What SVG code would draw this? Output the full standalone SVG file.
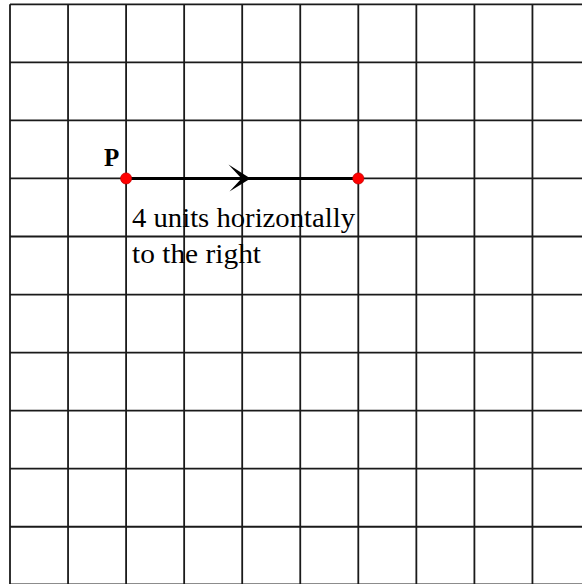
<svg xmlns="http://www.w3.org/2000/svg" width="582" height="584" viewBox="0 0 582 584">
<style>
.grid line{stroke:#1a1a1a;stroke-width:1.8}
.pt{fill:#ff0000;stroke:#b00000;stroke-width:0.6}
.lbl{font-family:"Liberation Serif","Times New Roman",serif;fill:#000}
</style>
<rect width="582" height="584" fill="#fff"/>
<g id="grid" class="grid">
<line x1="10" y1="4.3" x2="10" y2="584"/>
<line x1="68.05" y1="4.3" x2="68.05" y2="584"/>
<line x1="126.1" y1="4.3" x2="126.1" y2="584"/>
<line x1="184.15" y1="4.3" x2="184.15" y2="584"/>
<line x1="242.2" y1="4.3" x2="242.2" y2="584"/>
<line x1="300.25" y1="4.3" x2="300.25" y2="584"/>
<line x1="358.3" y1="4.3" x2="358.3" y2="584"/>
<line x1="416.35" y1="4.3" x2="416.35" y2="584"/>
<line x1="474.4" y1="4.3" x2="474.4" y2="584"/>
<line x1="532.45" y1="4.3" x2="532.45" y2="584"/>
<line x1="10" y1="4.3" x2="582" y2="4.3"/>
<line x1="10" y1="62.35" x2="582" y2="62.35"/>
<line x1="10" y1="120.4" x2="582" y2="120.4"/>
<line x1="10" y1="178.45" x2="582" y2="178.45"/>
<line x1="10" y1="236.5" x2="582" y2="236.5"/>
<line x1="10" y1="294.55" x2="582" y2="294.55"/>
<line x1="10" y1="352.6" x2="582" y2="352.6"/>
<line x1="10" y1="410.65" x2="582" y2="410.65"/>
<line x1="10" y1="468.7" x2="582" y2="468.7"/>
<line x1="10" y1="526.75" x2="582" y2="526.75"/>
<line x1="10" y1="584.3" x2="582" y2="584.3"/>
</g>
<g id="connectors">
<line x1="126.1" y1="178.45" x2="358.3" y2="178.45" stroke="#000" stroke-width="3"/>
<path d="M228.5,164.5 L250.5,178.45 L229.5,191.5 L241.5,178.45 Z" fill="#000"/>
</g>
<g id="P">
<circle class="pt" cx="126.1" cy="178.45" r="5.6"/>
<text class="lbl" x="104" y="166" font-size="25" font-weight="bold">P</text>
</g>
<g id="Q">
<circle class="pt" cx="358.3" cy="178.45" r="5.6"/>
</g>
<g id="label">
<text class="lbl" x="132" y="226.7" font-size="28" textLength="223" lengthAdjust="spacingAndGlyphs">4 units horizontally</text>
<text class="lbl" x="132" y="263.3" font-size="28" textLength="129" lengthAdjust="spacingAndGlyphs">to the right</text>
</g>
</svg>
